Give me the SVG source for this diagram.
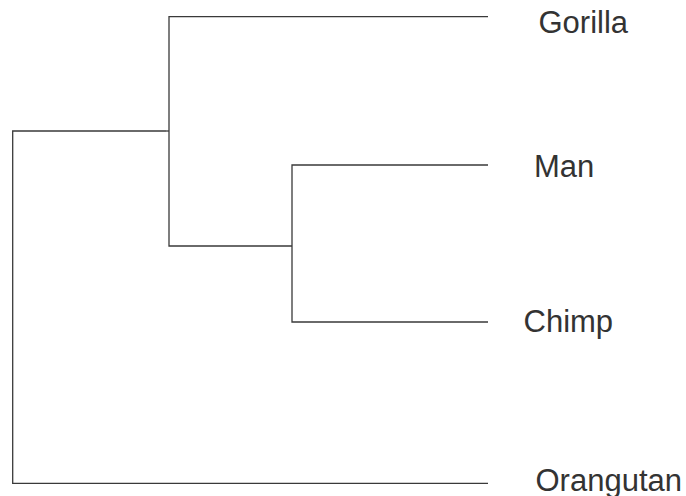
<svg xmlns="http://www.w3.org/2000/svg" width="686" height="496" viewBox="0 0 686 496">
<style>
.e{fill:none;stroke:#3a3a3a;stroke-width:1.3;stroke-linecap:butt}
.t{font-family:"Liberation Sans",Arial,sans-serif;font-size:31px;fill:#333}
</style>
<rect width="686" height="496" fill="#fff"/>
<g id="connectors">
<path class="e" d="M166,131 H12.7 V483.3 H488"/>
<path class="e" d="M488,16.7 H169 V246 H292"/>
<path class="e" d="M488,165 H292 V322 H488"/>
<path class="e" d="M166,131 H169"/>
</g>
<g id="gorilla"><text class="t" x="538.5" y="33">Gorilla</text></g>
<g id="man"><text class="t" x="534" y="177">Man</text></g>
<g id="chimp"><text class="t" x="523.5" y="332">Chimp</text></g>
<g id="orangutan"><text class="t" x="535.5" y="491">Orangutan</text></g>
</svg>
